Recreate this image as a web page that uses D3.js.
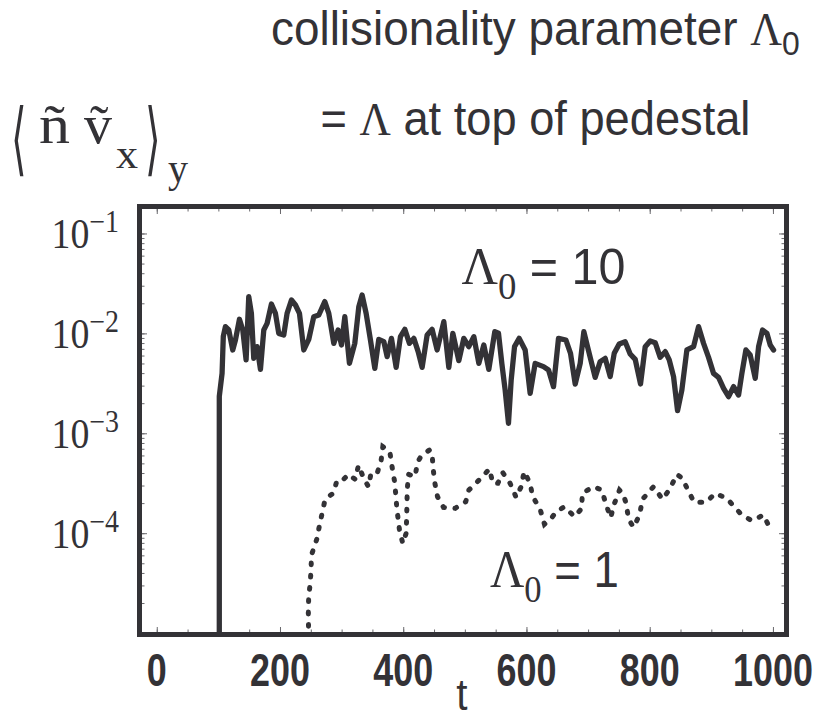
<!DOCTYPE html>
<html>
<head>
<meta charset="utf-8">
<script src="https://cdn.jsdelivr.net/npm/d3@7"></script>
<style>
  body { margin: 0; background: #fff; }
  svg { display: block; }
</style>
</head>
<body>
<svg id="chart" width="817" height="721"></svg>
<script>
// Flux time traces: [t, log10 <n v_x>_y]
// Λ0 = 10 (solid)
const fluxHighColl = [
  [101.5,-6],[101.5,-2.63],[106,-2.40],[108,-2.03],[111.4,-1.933],[116.9,-1.966],[123.3,-2.166],
  [127.7,-2.066],[134.2,-1.859],[139.6,-1.966],[145,-2.266],[149.3,-1.632],[153.6,-1.799],
  [157.4,-2.25],[162.8,-2.133],[168.3,-2.36],[173.7,-1.966],[179.1,-1.9],[186.1,-1.706],
  [192.6,-1.8],[198,-2.0],[206.1,-2.016],[211.5,-1.8],[218.6,-1.666],[225.1,-1.716],
  [231.6,-1.8],[238.6,-2.166],[246.7,-2.06],[254.8,-1.833],[263,-1.816],[272.7,-1.682],
  [279.2,-1.8],[287.3,-2.1],[294.3,-1.966],[299.8,-2.116],[305.2,-1.833],[312.7,-2.3],
  [321.4,-2.1],[327.9,-1.733],[333.3,-1.616],[339.8,-1.8],[346.8,-2.066],[353.9,-2.35],
  [360.3,-2.06],[368.5,-2.083],[373.9,-2.233],[380.9,-2.05],[388.5,-2.34],[395.5,-2.033],
  [402.6,-1.96],[410.1,-2.1],[417.2,-2.05],[424.2,-2.183],[430.7,-2.34],[438.8,-2.016],
  [446.9,-1.96],[455,-2.166],[465.9,-1.883],[474,-2.34],[480.5,-2.0],[490.2,-2.273],
  [498.3,-2.05],[506.4,-2.133],[514.6,-2.033],[522.7,-2.3],[530.8,-2.116],[538.9,-2.36],
  [548.6,-1.983],[554.6,-1.999],[560,-2.30],[565.4,-2.567],[570.8,-2.90],[575.2,-2.467],
  [580.6,-2.133],[588.2,-2.05],[597.9,-2.166],[606,-2.60],[614.1,-2.30],[627.7,-2.333],
  [635.8,-2.366],[643.9,-2.533],[652,-2.05],[663.9,-2.066],[671.5,-2.20],[679.1,-2.507],
  [687.2,-2.30],[693.1,-1.983],[700.7,-2.173],[711.5,-2.44],[719.6,-2.283],[727.8,-2.25],
  [735.9,-2.433],[742.4,-2.20],[750.5,-2.106],[760.2,-2.083],[768.3,-2.206],[776.5,-2.26],
  [785.1,-2.507],[792.7,-2.133],[800.8,-2.076],[808.9,-2.093],[817,-2.24],[825.2,-2.183],
  [831.7,-2.266],[838.7,-2.433],[845.2,-2.774],[852.2,-2.567],[860.3,-2.166],[871.2,-2.133],
  [879.3,-1.933],[887.4,-2.10],[895.5,-2.24],[903.6,-2.40],[911.7,-2.44],[919.9,-2.55],
  [928,-2.633],[936.1,-2.533],[944.2,-2.617],[949.6,-2.40],[956.1,-2.166],[963.1,-2.216],
  [971.3,-2.45],[976.7,-2.133],[983.2,-1.966],[990.2,-1.999],[995.6,-2.116],[1001,-2.166]
];

// Λ0 = 1 (dotted)
const fluxLowColl = [
  [247,-5.3],[246,-4.80],[246.5,-4.65],[249,-4.50],[250.5,-4.36],[251,-4.22],[259.7,-4.06],
  [263.5,-3.94],[268.9,-3.785],[273.2,-3.661],[286.8,-3.598],[292.2,-3.478],[300.3,-3.478],
  [311.1,-3.411],[322,-3.461],[327.4,-3.321],[336.6,-3.461],[343.6,-3.534],[347.4,-3.411],
  [357.1,-3.411],[364.1,-3.274],[366.9,-3.134],[378.2,-3.184],[381.5,-3.321],[385.8,-3.478],
  [388,-3.618],[389.6,-3.751],[393.9,-3.968],[399.3,-4.102],[404.7,-4.001],[405.5,-3.86],
  [406,-3.725],[406.5,-3.568],[408.5,-3.411],[419.3,-3.434],[423.1,-3.291],[429.1,-3.227],
  [442.6,-3.167],[447,-3.20],[448,-3.317],[450.7,-3.478],[455.6,-3.634],[465.3,-3.741],
  [484.3,-3.751],[501.5,-3.684],[506.5,-3.568],[522.1,-3.474],[540,-3.357],[545.4,-3.501],
  [553.5,-3.501],[561.6,-3.394],[573.5,-3.501],[583.2,-3.641],[591.4,-3.534],[596.2,-3.384],
  [606,-3.501],[609.7,-3.628],[622.2,-3.761],[629.2,-3.911],[641.1,-3.845],[648.2,-3.785],
  [661.7,-3.735],[678,-3.835],[689.8,-3.751],[690.5,-3.601],[708.8,-3.534],[722.3,-3.568],
  [729.3,-3.718],[736.9,-3.845],[741.2,-3.728],[751,-3.568],[756.4,-3.601],[761.8,-3.701],
  [765.6,-3.858],[773.7,-3.941],[783.5,-3.818],[788.3,-3.661],[806.2,-3.534],[820.8,-3.661],
  [833.2,-3.551],[844,-3.411],[853.2,-3.451],[861.9,-3.568],[872.2,-3.691],[891.7,-3.691],
  [906.3,-3.601],[925.2,-3.651],[937.1,-3.735],[949.6,-3.818],[965.8,-3.875],[984.7,-3.818],
  [993.9,-3.935]
];

const xTickLabels = [0, 200, 400, 600, 800, 1000];
const xMinorTicks = d3.range(0, 1001, 50);
const yDecadeExponents = [-1, -2, -3, -4];

const INK = "#333236";

const svg = d3.select("#chart");

// Plot frame
const frame = { left: 139.5, right: 786.5, top: 206.5, bottom: 634.5 };

const x = d3.scaleLinear().domain([-28, 1022]).range([frame.left, frame.right]);
const y = d3.scaleLog().domain([Math.pow(10, -5.014), Math.pow(10, -0.73)])
  .range([frame.bottom, frame.top]);

// ---- ticks (inside the frame, on all four sides) ----
const minorY = [];
for (let e = -5; e <= -1; e++) {
  for (let m = 1; m <= 9; m++) {
    const v = m * Math.pow(10, e);
    if (v >= y.domain()[0] && v <= y.domain()[1]) minorY.push(v);
  }
}
const majorY = yDecadeExponents.map(e => Math.pow(10, e));
const majorX = xTickLabels;

function tickAxis(axisFn, scale, values, len, tx, ty) {
  const g = svg.append("g")
    .attr("transform", `translate(${tx},${ty})`)
    .call(axisFn(scale).tickValues(values).tickSizeInner(-len).tickSizeOuter(0).tickFormat(""));
  g.select(".domain").remove();
  g.selectAll(".tick line").attr("stroke", "#6a696d").attr("stroke-width", 1);
  return g;
}
tickAxis(d3.axisBottom, x, xMinorTicks, 5, 0, frame.bottom);
tickAxis(d3.axisBottom, x, majorX, 7.5, 0, frame.bottom);
tickAxis(d3.axisTop, x, xMinorTicks, 5, 0, frame.top);
tickAxis(d3.axisTop, x, majorX, 7.5, 0, frame.top);
tickAxis(d3.axisLeft, y, minorY, 5, frame.left, 0);
tickAxis(d3.axisLeft, y, majorY, 7.5, frame.left, 0);
tickAxis(d3.axisRight, y, minorY, 5, frame.right, 0);
tickAxis(d3.axisRight, y, majorY, 7.5, frame.right, 0);

// ---- data traces, clipped to the plot area ----
svg.append("clipPath").attr("id", "plotClip")
  .append("rect")
  .attr("x", frame.left).attr("y", frame.top)
  .attr("width", frame.right - frame.left).attr("height", frame.bottom - frame.top);

const line = d3.line()
  .x(d => x(d[0]))
  .y(d => y(Math.pow(10, d[1])));

const traces = svg.append("g").attr("clip-path", "url(#plotClip)");

traces.append("path")
  .datum(fluxHighColl)
  .attr("d", line)
  .attr("fill", "none")
  .attr("stroke", INK)
  .attr("stroke-width", 5.3)
  .attr("stroke-linejoin", "round")
  .attr("stroke-linecap", "round");

traces.append("path")
  .datum(fluxLowColl)
  .attr("d", line)
  .attr("fill", "none")
  .attr("stroke", INK)
  .attr("stroke-width", 5)
  .attr("stroke-linecap", "round")
  .attr("stroke-dasharray", "1.8,10.5");

// frame on top
svg.append("rect")
  .attr("x", frame.left).attr("y", frame.top)
  .attr("width", frame.right - frame.left).attr("height", frame.bottom - frame.top)
  .attr("fill", "none")
  .attr("stroke", INK)
  .attr("stroke-width", 5);

// ---- text helpers ----
const SANS = "'Liberation Sans', Arial, Helvetica, sans-serif";
const SERIF = "'Liberation Serif', 'Times New Roman', 'DejaVu Serif', serif";

// text built from runs; squeezed horizontally by sx around its anchor
function richText(xPos, yPos, runs, opts = {}) {
  const g = svg.append("g").attr("transform", `translate(${xPos},${yPos})`);
  const t = g.append("text")
    .attr("x", 0).attr("y", 0)
    .attr("fill", INK)
    .attr("text-anchor", opts.anchor || "start")
    .attr("font-weight", opts.weight || "normal");
  runs.forEach(r => {
    const s = t.append("tspan")
      .attr("font-family", r.family || SANS)
      .attr("font-size", r.size)
      .text(r.text);
    if (r.dy) s.attr("dy", r.dy);
    if (r.dx) s.attr("dx", r.dx);
  });
  let sx = opts.sx || 1;
  if (opts.width) {
    const w = t.node().getComputedTextLength();
    sx = opts.width / w;
  }
  t.attr("transform", `scale(${sx},${opts.sy || 1})`);
  return g;
}

// x tick labels (bold, condensed)
xTickLabels.forEach(v => {
  richText(x(v), 686, [{ text: String(v), size: 46 }], { anchor: "middle", weight: "bold", sx: 0.78 });
});
// x axis title
richText(462, 710, [{ text: "t", size: 44 }], { anchor: "middle", sx: 0.92 });

// y tick labels 10^e
yDecadeExponents.forEach(e => {
  richText(119, y(Math.pow(10, e)) + 15, [
    { text: "10", size: 42, family: SERIF },
    { text: "\u2212" + Math.abs(e), size: 31, family: SERIF, dy: -16 }
  ], { anchor: "end", sx: 0.9 });
});

// curve labels
richText(461.5, 284, [
  { text: "\u039B", size: 52, family: SERIF },
  { text: "0", size: 38, family: SERIF, dy: 15 },
  { text: " = 10", size: 50, family: SANS, dy: -15 }
], { width: 164 });

richText(490, 587, [
  { text: "\u039B", size: 52, family: SERIF },
  { text: "0", size: 38, family: SERIF, dy: 15 },
  { text: " = 1", size: 50, family: SANS, dy: -15 }
], { width: 129 });

// header lines
richText(271, 45, [
  { text: "collisionality parameter ", size: 46, family: SANS },
  { text: "\u039B", size: 44, family: SERIF },
  { text: "0", size: 32, family: SANS, dy: 10 }
], { width: 529, sy: 1.04 });

richText(320.5, 135, [
  { text: "= ", size: 46, family: SANS },
  { text: "\u039B", size: 44, family: SERIF },
  { text: " at top of pedestal", size: 46, family: SANS }
], { width: 430, sy: 1.04 });

// y axis quantity <ñ ṽ_x>_y
const BRACKET = "'DejaVu Sans', sans-serif";
richText(11, 166, [{ text: "\u27E8", size: 80, family: BRACKET }], { sx: 0.5 });
richText(39, 143, [{ text: "\u00F1", size: 54, family: SERIF }], { width: 31 });
richText(84, 143, [{ text: "v\u0303", size: 54, family: SERIF }], { width: 28 });
richText(116, 168, [{ text: "x", size: 42, family: SERIF }], { width: 22 });
richText(145, 166, [{ text: "\u27E9", size: 80, family: BRACKET }], { sx: 0.5 });
richText(168, 182, [{ text: "y", size: 42, family: SERIF }], { width: 20 });
</script>
</body>
</html>
